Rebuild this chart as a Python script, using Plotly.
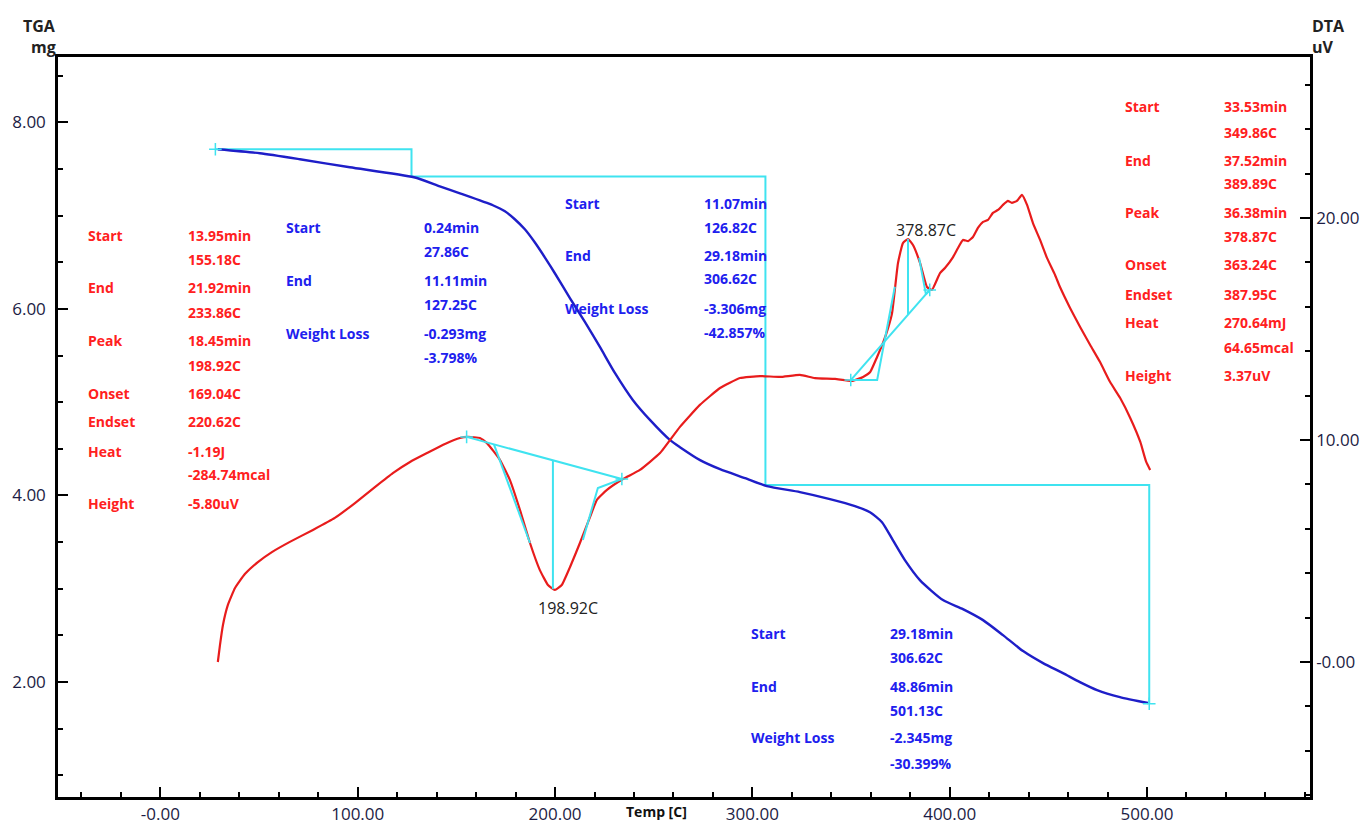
import plotly.graph_objects as go

# ---------------- data ----------------
# TGA curve: temperature (C) and mass (mg)
tga_temp = [29.1, 50.4, 70.7, 96.0, 128.5, 141.6, 151.8, 168.5, 174.6, 179.6, 184.7, 189.7,
            194.8, 199.9, 207.6, 215.2, 222.8, 230.4, 239.5, 248.2, 258.3, 263.3, 273.5, 283.6,
            296.3, 307.4, 324.1, 339.3, 352.0, 359.6, 365.7, 371.2, 377.3, 384.9, 396.6, 406.7,
            416.9, 427.0, 437.2, 447.3, 457.4, 466.0, 474.7, 486.3, 500.5]
tga_mass = [7.711, 7.668, 7.604, 7.518, 7.411, 7.314, 7.239, 7.111, 7.046, 6.961, 6.853, 6.714,
            6.553, 6.382, 6.114, 5.857, 5.589, 5.311, 5.021, 4.807, 4.593, 4.518, 4.379, 4.282,
            4.186, 4.100, 4.036, 3.961, 3.886, 3.821, 3.714, 3.521, 3.307, 3.093, 2.879, 2.782,
            2.664, 2.503, 2.332, 2.203, 2.096, 2.000, 1.914, 1.839, 1.775]

# DTA curve: temperature (C) and signal (uV)
dta_temp = [29.1, 30.2, 31.7, 34.2, 37.8, 42.8, 49.4, 56.5, 65.6, 77.3, 88.4, 98.6, 108.7,
            117.8, 126.5, 135.1, 144.2, 151.8, 155.8, 161.9, 165.5, 172.1, 177.1, 182.2, 187.3,
            192.3, 196.4, 199.9, 203.4, 207.6, 212.6, 217.7, 221.2, 226.3, 234.4, 243.0, 253.2,
            263.3, 273.4, 283.6, 293.7, 303.9, 314.0, 324.1, 331.7, 341.9, 350.5, 356.1, 359.7,
            363.2, 366.2, 368.8, 370.8, 372.2, 373.8, 376.3, 378.9, 381.4, 385.0, 388.5, 391.0,
            395.1, 397.6, 401.7, 404.2, 406.7, 409.3, 411.8, 414.3, 416.9, 419.4, 421.9, 424.5,
            427.0, 429.5, 431.5, 434.1, 436.6, 439.2, 442.2, 445.8, 449.3, 453.4, 455.9, 461.0,
            466.1, 471.2, 476.2, 481.3, 486.4, 491.5, 496.6, 499.6, 501.6]
dta_uv = [0.00, 0.77, 1.67, 2.57, 3.33, 3.96, 4.50, 4.95, 5.41, 5.95, 6.49, 7.16, 7.88,
          8.51, 9.01, 9.41, 9.82, 10.09, 10.14, 10.09, 9.86, 9.10, 8.20, 6.85, 5.36,
          4.14, 3.47, 3.25, 3.47, 4.28, 5.36, 6.53, 7.30, 7.75, 8.24, 8.65, 9.41,
          10.59, 11.58, 12.34, 12.79, 12.88, 12.84, 12.93, 12.79, 12.75, 12.66, 12.84, 13.06,
          13.74, 14.37, 15.05, 15.72, 16.76, 17.97, 18.87, 19.05, 18.78, 17.97, 16.89, 16.76,
          17.52, 17.75, 18.24, 18.65, 19.01, 18.96, 19.14, 19.55, 19.82, 19.91, 20.23, 20.36,
          20.59, 20.77, 20.68, 20.77, 21.04, 20.59, 19.77, 19.01, 18.20, 17.43, 16.89, 15.95,
          15.09, 14.28, 13.51, 12.61, 11.89, 10.99, 9.91, 9.01, 8.65]

# TGA weight-loss steps
step_start_T = [27.86, 126.82, 306.62]
step_end_T = [127.25, 306.62, 501.13]
step_start_W = [7.711, 7.418, 4.112]
step_end_W = [7.418, 4.112, 1.767]

# DTA peaks
peak_T = [198.92, 378.87]
peak_uV = [3.28, 19.05]
peak_start_T = [155.18, 349.86]
peak_start_uV = [10.14, 12.70]
peak_end_T = [233.86, 389.89]
peak_end_uV = [8.24, 16.76]
# tangent construction lines (temperature, uV)
tan1_on_T = [169.04, 187.3]
tan1_on_uV = [9.805, 5.36]
tan1_end_T = [214.1, 221.7, 233.86]
tan1_end_uV = [5.50, 7.84, 8.24]
tan2_on_T = [349.86, 363.24, 372.2]
tan2_on_uV = [12.70, 12.70, 16.90]
tan2_end_T = [384.5, 387.95, 389.89]
tan2_end_uV = [18.20, 16.56, 16.76]

x_ticks = [0, 100, 200, 300, 400, 500]
x_ticktext = ["-0.00", "100.00", "200.00", "300.00", "400.00", "500.00"]
y_ticks = [2, 4, 6, 8]
y_ticktext = ["2.00", "4.00", "6.00", "8.00"]
y2_ticks = [0, 10, 20]
y2_ticktext = ["-0.00", "10.00", "20.00"]

# ---------------- figure ----------------
PAGE_OFF = 8                      # default body margin of the html page
W, H = 1369 - PAGE_OFF, 824 - PAGE_OFF
L, R, T, B = 58, 1310, 57, 797    # plot area in page pixels
FONT = "Open Sans"
RED_T = "#ff2020"
BLUE_T = "#2020ee"
CYAN = "#3fe3f0"
RED = "#e81c1c"
BLUE = "#1e1ec8"
TICKC = "#1c1c44"

fig = go.Figure()

# TGA step lines (cyan)
sx, sy = [], []
for a, b, wa, wb in zip(step_start_T, step_end_T, step_start_W, step_end_W):
    sx += [a, b, b, None]
    sy += [wa, wa, wb, None]
fig.add_trace(go.Scatter(x=sx, y=sy, mode="lines", line=dict(color=CYAN, width=2),
                         hoverinfo="skip", showlegend=False))

# DTA peak construction lines (cyan, right axis)
cx, cy = [], []
for i in range(len(peak_T)):
    s, e = peak_start_T[i], peak_end_T[i]
    su, eu = peak_start_uV[i], peak_end_uV[i]
    base = su + (peak_T[i] - s) / (e - s) * (eu - su)
    cx += [s, e, None, peak_T[i], peak_T[i], None]
    cy += [su, eu, None, peak_uV[i], base, None]
for tx, ty in [(tan1_on_T, tan1_on_uV), (tan1_end_T, tan1_end_uV),
               (tan2_on_T, tan2_on_uV), (tan2_end_T, tan2_end_uV)]:
    cx += list(tx) + [None]
    cy += list(ty) + [None]

fig.add_trace(go.Scatter(x=dta_temp, y=dta_uv, yaxis="y2", mode="lines",
                         line=dict(color=RED, width=2.2, shape="spline", smoothing=0.4),
                         hoverinfo="skip", showlegend=False))
fig.add_trace(go.Scatter(x=cx, y=cy, yaxis="y2", mode="lines", line=dict(color=CYAN, width=2),
                         hoverinfo="skip", showlegend=False))
fig.add_trace(go.Scatter(x=peak_start_T + peak_end_T, y=peak_start_uV + peak_end_uV, yaxis="y2",
                         mode="markers",
                         marker=dict(symbol="cross-thin", size=9, line=dict(color=CYAN, width=1.5)),
                         hoverinfo="skip", showlegend=False))

fig.add_trace(go.Scatter(x=tga_temp, y=tga_mass, mode="lines",
                         line=dict(color=BLUE, width=2.4, shape="spline", smoothing=0.6),
                         hoverinfo="skip", showlegend=False))
fig.add_trace(go.Scatter(x=[step_start_T[0], step_end_T[-1]], y=[step_start_W[0], step_end_W[-1]],
                         mode="markers",
                         marker=dict(symbol="cross-thin", size=9, line=dict(color=CYAN, width=1.5)),
                         hoverinfo="skip", showlegend=False))


def pp(px, py):
    return (px - L) / (R - L), (B - py) / (B - T)


def txt(px, py, s, color, size=14, anchor="left", weight="bold"):
    x, y = pp(px, py)
    fig.add_annotation(x=x, y=y, xref="paper", yref="paper", text=s, showarrow=False,
                       xanchor=anchor, yanchor="middle",
                       font=dict(family=FONT, size=size, color=color, weight=weight))


blocks = [
    (86, 186, RED_T, [("Start", "13.95min", 235), (None, "155.18C", 259), ("End", "21.92min", 287),
                      (None, "233.86C", 312), ("Peak", "18.45min", 340), (None, "198.92C", 365),
                      ("Onset", "169.04C", 393), ("Endset", "220.62C", 421), ("Heat", "-1.19J", 451),
                      (None, "-284.74mcal", 474), ("Height", "-5.80uV", 504)]),
    (284, 422, BLUE_T, [("Start", "0.24min", 227), (None, "27.86C", 252), ("End", "11.11min", 280),
                        (None, "127.25C", 304), ("Weight Loss", "-0.293mg", 334), (None, "-3.798%", 357)]),
    (563, 702, BLUE_T, [("Start", "11.07min", 204), (None, "126.82C", 228), ("End", "29.18min", 255),
                        (None, "306.62C", 278), ("Weight Loss", "-3.306mg", 308), (None, "-42.857%", 332)]),
    (749, 888, BLUE_T, [("Start", "29.18min", 633), (None, "306.62C", 657), ("End", "48.86min", 686),
                        (None, "501.13C", 710), ("Weight Loss", "-2.345mg", 737), (None, "-30.399%", 763)]),
    (1123, 1222, RED_T, [("Start", "33.53min", 107), (None, "349.86C", 133), ("End", "37.52min", 160),
                         (None, "389.89C", 183), ("Peak", "36.38min", 213), (None, "378.87C", 237),
                         ("Onset", "363.24C", 264), ("Endset", "387.95C", 294), ("Heat", "270.64mJ", 322),
                         (None, "64.65mcal", 347), ("Height", "3.37uV", 375)]),
]
for xl, xv, col, rows in blocks:
    for lab, val, py in rows:
        if lab:
            txt(xl, py, lab, col)
        txt(xv, py, val, col)

txt(568, 608, "198.92C", "#222222", size=16, anchor="center", weight="normal")
txt(926, 230, "378.87C", "#222222", size=16, anchor="center", weight="normal")

txt(58, 26, "TGA", "#222222", size=16, anchor="right")
txt(58, 47, "mg", "#222222", size=16, anchor="right")
txt(1310, 26, "DTA", "#222222", size=16, anchor="left")
txt(1310, 47, "uV", "#222222", size=16, anchor="left")
txt(656, 812, "Temp [C]", "#111111", size=14, anchor="center")

axis_common = dict(showgrid=False, zeroline=False, showline=True, linecolor="black", linewidth=2.5,
                   ticks="inside", ticklen=10, tickwidth=2, tickcolor="black", automargin=False,
                   tickfont=dict(family=FONT, size=17, color=TICKC))

fig.update_layout(
    width=W, height=H,
    margin=dict(l=L - PAGE_OFF, r=W - (R - PAGE_OFF), t=T - PAGE_OFF, b=H - (B - PAGE_OFF)),
    paper_bgcolor="white", plot_bgcolor="white",
    showlegend=False,
    xaxis=dict(range=[-51.9, 582.6], tickvals=x_ticks, ticktext=x_ticktext, mirror=True,
               minor=dict(dtick=20, tick0=0, ticks="inside", ticklen=5, tickwidth=2, tickcolor="black"),
               **axis_common),
    yaxis=dict(range=[0.768, 8.70], tickvals=y_ticks, ticktext=y_ticktext, ticklabelstandoff=6,
               minor=dict(dtick=0.5, tick0=0, ticks="inside", ticklen=5, tickwidth=2, tickcolor="black"),
               **axis_common),
    yaxis2=dict(range=[-6.08, 27.25], tickvals=y2_ticks, ticktext=y2_ticktext, overlaying="y",
                side="right",
                minor=dict(dtick=2, tick0=0, ticks="inside", ticklen=5, tickwidth=2, tickcolor="black"),
                **axis_common),
)

fig.write_html("out.html", config={"displayModeBar": False})
